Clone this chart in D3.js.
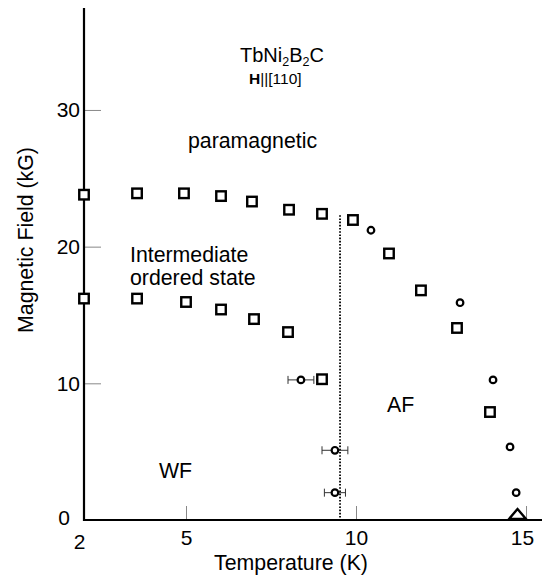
<!DOCTYPE html>
<html>
<head>
<meta charset="utf-8">
<script src="https://cdn.jsdelivr.net/npm/d3@7"></script>
<style>
  html, body { margin: 0; padding: 0; background: #fff; }
  svg { display: block; font-family: "Liberation Sans", Arial, Helvetica, sans-serif; }
</style>
</head>
<body>
<svg id="chart" width="542" height="581"></svg>
<script>
// Phase boundaries of TbNi2B2C, H || [110]
// Upper boundary (squares): paramagnetic / intermediate-AF transition
const upperT = [2.0, 3.56, 4.94, 6.03, 6.94, 8.03, 9.0, 9.91, 10.97, 11.91, 12.97, 13.94];
const upperH = [23.8, 23.9, 23.9, 23.7, 23.3, 22.7, 22.4, 21.95, 19.5, 16.8, 14.05, 7.9];
// Lower boundary (squares): intermediate ordered state / WF
const lowerT = [2.0, 3.56, 5.0, 6.03, 7.0, 8.0, 9.0];
const lowerH = [16.2, 16.2, 15.95, 15.4, 14.7, 13.75, 10.3];
// Circles without error bars
const circT = [10.44, 13.06, 14.03, 14.53, 14.71];
const circH = [21.2, 15.9, 10.25, 5.35, 2.0];
// Circles with temperature error bars
const errT = [8.38, 9.38, 9.38];
const errH = [10.25, 5.1, 2.0];
const errDT = [0.38, 0.38, 0.31];
// Neel temperature at zero field (triangle)
const neelT = [14.75];
const neelH = [0];
// Dotted WF/AF boundary
const wfT = 9.53;
const wfHTop = 22.3;

const xTicks = [2, 5, 10, 15];
const yTicks = [0, 10, 20, 30];

const svg = d3.select("#chart");
const x = d3.scaleLinear().domain([2, 15.47]).range([84, 542]);
const y = d3.scaleLinear().domain([0, 37.46]).range([520, 8]);

const FS = 21.3;

// Axes
const yAxis = d3.axisLeft(y).tickValues(yTicks).tickSizeInner(-17).tickSizeOuter(0).tickPadding(4);
const gy = svg.append("g").attr("transform", `translate(${x(2)},0)`).call(yAxis);
gy.select(".domain").remove();
gy.selectAll(".tick line").attr("stroke", "#888").attr("stroke-width", 1)
  .filter(d => d === 0).remove();
gy.selectAll(".tick text").attr("font-size", 21).attr("font-family", "Liberation Sans, Arial, sans-serif").attr("fill", "#000");
gy.selectAll(".tick text").filter(d => d === 0).attr("dx", -10).attr("dy", "0.2em");

const xAxis = d3.axisBottom(x).tickValues(xTicks).tickSizeInner(-14).tickSizeOuter(0).tickPadding(10);
const gx = svg.append("g").attr("transform", `translate(0,${y(0)})`).call(xAxis);
gx.select(".domain").remove();
gx.selectAll(".tick line").attr("stroke", "#888").attr("stroke-width", 1)
  .filter(d => d === 2).remove();
gx.selectAll(".tick text").attr("font-size", 21).attr("font-family", "Liberation Sans, Arial, sans-serif").attr("fill", "#000");
gx.selectAll(".tick text").filter(d => d === 2).attr("dx", -5).attr("dy", "0.92em");
gx.selectAll(".tick text").filter(d => d === 15).attr("dx", -4);

// Axis lines
svg.append("line").attr("x1", x(2)).attr("x2", x(2)).attr("y1", y(37.46)).attr("y2", y(0) + 1)
  .attr("stroke", "#000").attr("stroke-width", 2.2);
svg.append("line").attr("x1", x(2) - 1).attr("x2", x(15.47)).attr("y1", y(0)).attr("y2", y(0))
  .attr("stroke", "#000").attr("stroke-width", 2.2);

// Axis titles
svg.append("text").attr("x", 291).attr("y", 570).attr("text-anchor", "middle")
  .attr("font-size", FS).text("Temperature (K)");
svg.append("text").attr("transform", `translate(33,240) rotate(-90)`).attr("text-anchor", "middle")
  .attr("font-size", FS).text("Magnetic Field (kG)");

// Dotted boundary line
svg.append("line").attr("x1", x(wfT)).attr("x2", x(wfT)).attr("y1", y(wfHTop)).attr("y2", y(0))
  .attr("stroke", "#000").attr("stroke-width", 1.8).attr("stroke-dasharray", "1.6,1.6");

// Square markers
const sq = 9.5;
function squares(T, H) {
  svg.append("g").selectAll("rect").data(T.map((t, i) => [t, H[i]])).join("rect")
    .attr("x", d => x(d[0]) - sq / 2).attr("y", d => y(d[1]) - sq / 2)
    .attr("width", sq).attr("height", sq)
    .attr("fill", "#fff").attr("stroke", "#000").attr("stroke-width", 2.4);
}
squares(upperT, upperH);
squares(lowerT, lowerH);

// Error bars
const eb = svg.append("g").attr("stroke", "#333").attr("stroke-width", 1);
errT.forEach((t, i) => {
  const cy = y(errH[i]), x0 = x(t - errDT[i]), x1 = x(t + errDT[i]);
  eb.append("line").attr("x1", x0).attr("x2", x1).attr("y1", cy).attr("y2", cy);
  eb.append("line").attr("x1", x0).attr("x2", x0).attr("y1", cy - 4).attr("y2", cy + 4);
  eb.append("line").attr("x1", x1).attr("x2", x1).attr("y1", cy - 4).attr("y2", cy + 4);
});

// Circle markers
function circles(T, H) {
  svg.append("g").selectAll("circle").data(T.map((t, i) => [t, H[i]])).join("circle")
    .attr("cx", d => x(d[0])).attr("cy", d => y(d[1])).attr("r", 3.3)
    .attr("fill", "#fff").attr("stroke", "#000").attr("stroke-width", 2.2);
}
circles(circT, circH);
circles(errT, errH);

// Triangle at T_N
svg.append("g").selectAll("path").data(neelT.map((t, i) => [t, neelH[i]])).join("path")
  .attr("d", d => {
    const cx = x(d[0]), by = y(d[1]);
    return `M${cx - 8.5},${by - 1}L${cx + 8.5},${by - 1}L${cx},${by - 11}Z`;
  })
  .attr("fill", "none").attr("stroke", "#000").attr("stroke-width", 2.4).attr("stroke-linejoin", "miter");

// Region labels
const title = svg.append("text").attr("x", 240).attr("y", 62).attr("font-size", 20);
title.append("tspan").text("TbNi");
title.append("tspan").attr("font-size", 12.5).attr("dy", 4).text("2");
title.append("tspan").attr("dy", -4).text("B");
title.append("tspan").attr("font-size", 12.5).attr("dy", 4).text("2");
title.append("tspan").attr("dy", -4).text("C");

const sub = svg.append("text").attr("x", 249).attr("y", 84).attr("font-size", 15.5);
sub.append("tspan").attr("font-weight", "bold").text("H");
sub.append("tspan").text("||[110]");

svg.append("text").attr("x", 188).attr("y", 148).attr("font-size", FS).text("paramagnetic");
svg.append("text").attr("x", 130).attr("y", 262).attr("font-size", FS).text("Intermediate");
svg.append("text").attr("x", 130).attr("y", 285).attr("font-size", FS).text("ordered state");
svg.append("text").attr("x", 387).attr("y", 412).attr("font-size", FS).text("AF");
svg.append("text").attr("x", 159).attr("y", 478).attr("font-size", FS).text("WF");
</script>
</body>
</html>
